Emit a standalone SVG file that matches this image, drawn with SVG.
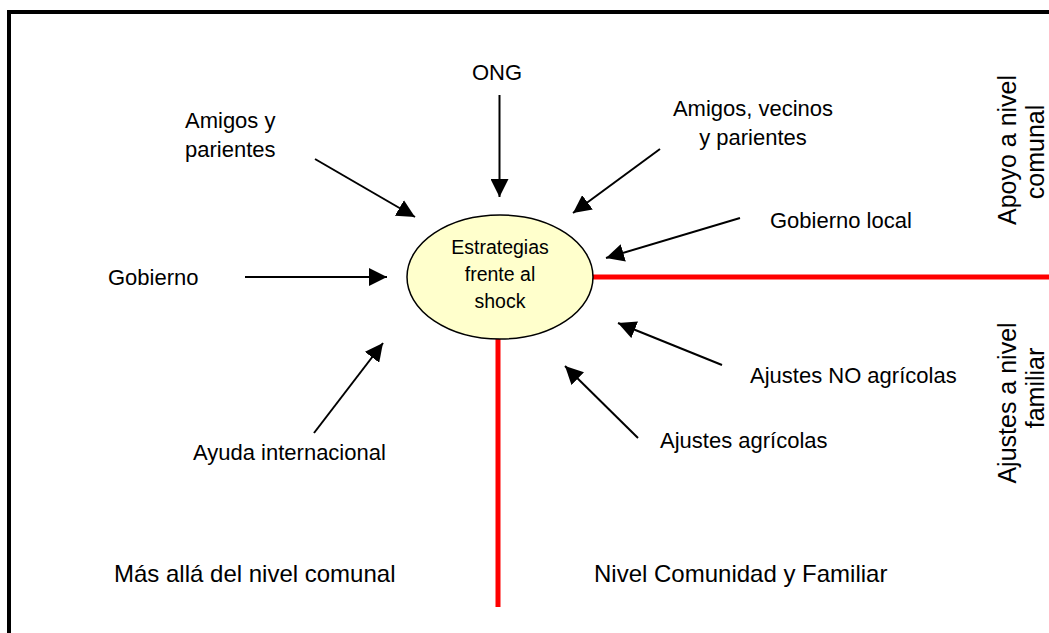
<svg xmlns="http://www.w3.org/2000/svg" width="1049" height="633" viewBox="0 0 1049 633">
<style>
.lbl{font-family:"Liberation Sans",Arial,sans-serif;font-size:22px;fill:#000}
.big{font-family:"Liberation Sans",Arial,sans-serif;font-size:24px;fill:#000}
.side{font-family:"Liberation Sans",Arial,sans-serif;font-size:25px;fill:#000}
.in{font-family:"Liberation Sans",Arial,sans-serif;font-size:19.5px;fill:#000}
.arr{stroke:#000;stroke-width:2;fill:none;marker-end:url(#ah)}
.red{stroke:#FF0000;stroke-width:5;fill:none}
</style>
<defs>
<marker id="ah" markerUnits="userSpaceOnUse" markerWidth="18" markerHeight="18" viewBox="0 0 18 18" refX="18" refY="9" orient="auto">
<path d="M0,0 L18,9 L0,18 Z" fill="#000"/>
</marker>
</defs>
<rect x="0" y="0" width="1049" height="633" fill="#fff"/>
<g id="border"><path d="M9,640 L9,12 L1060,12" stroke="#000" stroke-width="4" fill="none"/></g>
<g id="dividers">
<line class="red" x1="592" y1="277" x2="1049" y2="277"/>
<line class="red" x1="498" y1="339" x2="498" y2="607"/>
</g>
<g id="connectors">
<line class="arr" x1="499.5" y1="95" x2="499.5" y2="197"/>
<line class="arr" x1="315" y1="159" x2="415" y2="217"/>
<line class="arr" x1="660" y1="149" x2="573" y2="213"/>
<line class="arr" x1="740" y1="218" x2="606" y2="258"/>
<line class="arr" x1="245" y1="277" x2="387" y2="277"/>
<line class="arr" x1="314" y1="433" x2="383" y2="343"/>
<line class="arr" x1="722" y1="365" x2="618" y2="323"/>
<line class="arr" x1="638" y1="438" x2="565" y2="366"/>
</g>
<g id="center">
<ellipse cx="500" cy="277" rx="93" ry="62" fill="#FFFFCC" stroke="#000" stroke-width="1.5"/>
<text class="in" text-anchor="middle" x="500" y="254">Estrategias</text>
<text class="in" text-anchor="middle" x="500" y="281">frente al</text>
<text class="in" text-anchor="middle" x="500" y="308">shock</text>
</g>
<g id="ong"><text class="lbl" text-anchor="middle" x="497" y="80">ONG</text></g>
<g id="amigos"><text class="lbl" x="185" y="128">Amigos y</text><text class="lbl" x="185" y="157">parientes</text></g>
<g id="vecinos"><text class="lbl" text-anchor="middle" x="753" y="116">Amigos, vecinos</text><text class="lbl" text-anchor="middle" x="753" y="145">y parientes</text></g>
<g id="gobloc"><text class="lbl" x="770" y="228">Gobierno local</text></g>
<g id="gobierno"><text class="lbl" x="108" y="285">Gobierno</text></g>
<g id="noagr"><text class="lbl" x="750" y="383">Ajustes NO agrícolas</text></g>
<g id="agr"><text class="lbl" x="660" y="448">Ajustes agrícolas</text></g>
<g id="ayuda"><text class="lbl" x="193" y="460">Ayuda internacional</text></g>
<g id="mas"><text class="big" x="114" y="582">Más allá del nivel comunal</text></g>
<g id="nivel"><text class="big" x="594" y="582">Nivel Comunidad y Familiar</text></g>
<g id="apoyo">
<text class="side" text-anchor="middle" transform="translate(1016,150) rotate(-90)">Apoyo a nivel</text>
<text class="side" text-anchor="middle" transform="translate(1044,152) rotate(-90)">comunal</text>
</g>
<g id="ajustes">
<text class="side" text-anchor="middle" transform="translate(1016,403) rotate(-90)">Ajustes a nivel</text>
<text class="side" text-anchor="middle" transform="translate(1044,388) rotate(-90)">familiar</text>
</g>
</svg>
